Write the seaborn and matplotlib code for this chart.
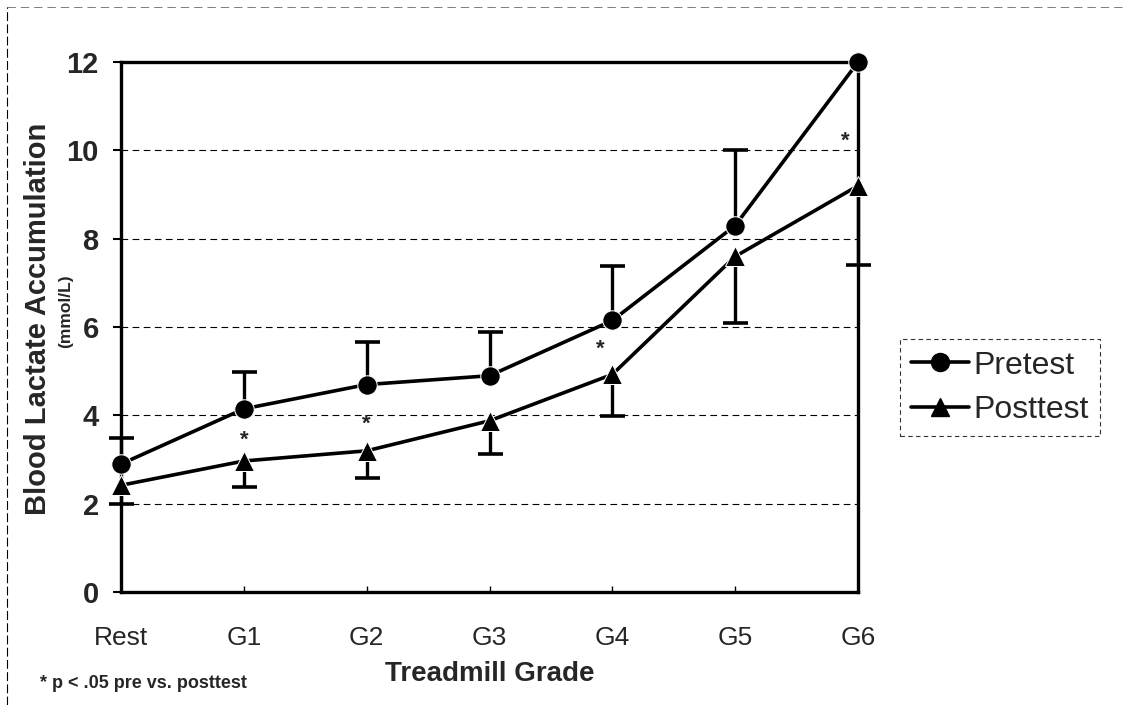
import pandas as pd
import numpy as np
import matplotlib
matplotlib.use('Agg')
import matplotlib.pyplot as plt
import seaborn as sns
from matplotlib.lines import Line2D

# data
grades = ['Rest', 'G1', 'G2', 'G3', 'G4', 'G5', 'G6']
pretest = [2.9, 4.15, 4.7, 4.9, 6.15, 8.3, 12.0]
pretest_sd = [0.6, 0.83, 0.97, 0.98, 1.23, 1.72, 0.0]
posttest = [2.42, 2.97, 3.2, 3.88, 4.93, 7.6, 9.2]
posttest_sd = [0.42, 0.6, 0.62, 0.75, 0.95, 1.5, 1.8]
sig_grades = ['G1', 'G2', 'G4', 'G6']
sig_y = [3.45, 3.8, 5.5, 10.2]

sns.set_theme(style='white')
plt.rcParams['font.family'] = ['Liberation Sans', 'DejaVu Sans']

df = pd.DataFrame({'grade': grades * 2,
                   'lactate': pretest + posttest,
                   'test': ['Pretest'] * 7 + ['Posttest'] * 7})

fig = plt.figure(figsize=(11.38, 7.05), dpi=100)
ax = fig.add_axes([0.1063, 0.160, 0.6477, 0.752])

sns.lineplot(data=df, x='grade', y='lactate', style='test',
             markers={'Pretest': 'o', 'Posttest': '^'}, dashes=False,
             color='black', linewidth=2.6, markersize=14, ax=ax, legend=False,
             clip_on=False, zorder=3)


def one_sided(vals, sd, up):
    # errorbar draws caps at both ends; drop the cap sitting on the point
    lo = np.zeros(len(vals)) if up else np.array(sd)
    hi = np.array(sd) if up else np.zeros(len(vals))
    _, caps, _ = ax.errorbar(np.arange(len(vals)), vals, yerr=[lo, hi], fmt='none',
                             ecolor='black', elinewidth=2.4, capsize=9,
                             capthick=2.6, clip_on=False)
    for c in caps:
        if np.allclose(c.get_ydata(), vals):
            c.remove()
        else:
            c.set_markevery([i for i, s in enumerate(sd) if s > 0])


one_sided(pretest, pretest_sd, up=True)
one_sided(posttest, posttest_sd, up=False)

for g, yv in zip(sig_grades, sig_y):
    xi = grades.index(g) - (0.1 if g in ('G4', 'G6') else 0)
    ax.text(xi, yv, '*', ha='center', va='center', fontsize=16, fontweight='bold')

ax.set_xlim(0, 6)
ax.set_ylim(0, 12)
ax.set_yticks(range(0, 13, 2))
ax.yaxis.grid(True, linestyle=(0, (6, 4)), color='black', linewidth=0.8)
for s in ax.spines.values():
    s.set_color('black')
    s.set_linewidth(2.4)
ax.tick_params(axis='y', labelsize=21, pad=10, left=True, length=6, width=1.5, color='black')
ax.tick_params(axis='x', labelsize=19, pad=24, bottom=True, length=4, width=1, color='black', direction='in')
for lab in ax.get_yticklabels():
    lab.set_fontweight('bold')

ax.set_xlabel('Treadmill Grade', fontsize=20, fontweight='bold', labelpad=8)
ax.set_ylabel('')
fig.text(0.033, 0.548, 'Blood Lactate Accumulation', rotation=90, ha='center', va='center',
         fontsize=21, fontweight='bold')
fig.text(0.058, 0.558, '(mmol/L)', rotation=90, ha='center', va='center',
         fontsize=12.5, fontweight='bold')
fig.text(0.035, 0.024, '* p < .05 pre vs. posttest', fontsize=13, fontweight='bold')

handles = [Line2D([], [], color='black', marker='o', linewidth=2.6, markersize=13),
           Line2D([], [], color='black', marker='^', linewidth=2.6, markersize=13)]
leg = fig.legend(handles, ['Pretest', 'Posttest'], loc='center left',
                 bbox_to_anchor=(0.791, 0.450), fontsize=23, frameon=True,
                 fancybox=False, handlelength=1.8, handletextpad=0.15,
                 borderpad=0.35, labelspacing=0.45, borderaxespad=0)
leg.get_frame().set_edgecolor('black')
leg.get_frame().set_linestyle((0, (4, 3)))
leg.get_frame().set_linewidth(0.8)

# faint scan border at top and left
fig.add_artist(Line2D([0.006, 0.006], [0.0, 0.99], color='black', linewidth=0.8,
                      linestyle=(0, (8, 3))))
fig.add_artist(Line2D([0.006, 0.99], [0.99, 0.99], color='black', linewidth=0.6,
                      linestyle=(0, (10, 6)), alpha=0.6))

plt.savefig('out.png', dpi=100)
plt.close()
